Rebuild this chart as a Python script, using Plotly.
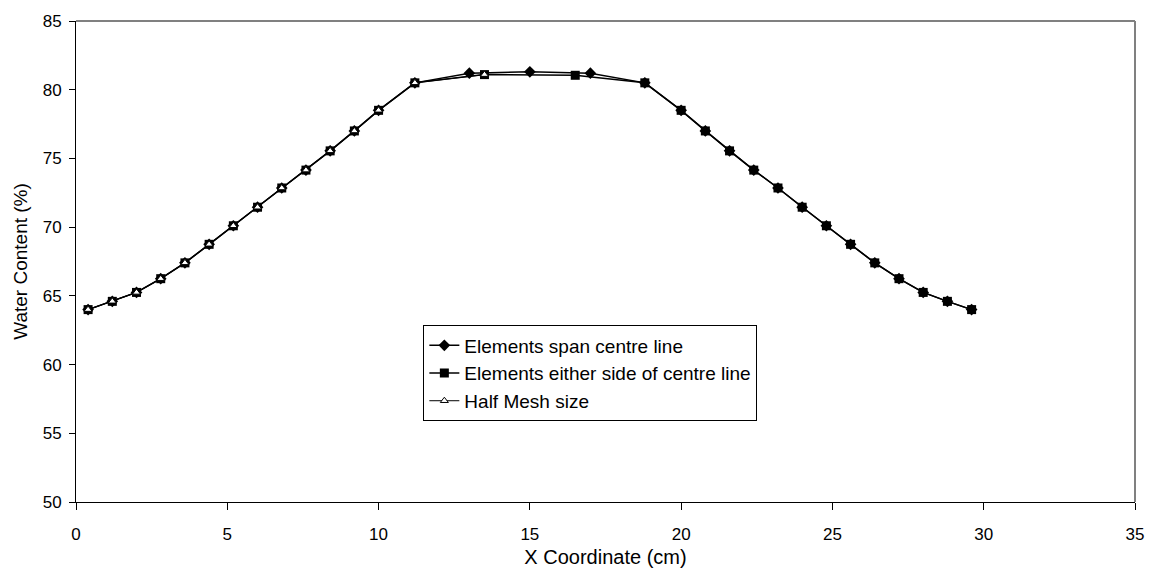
import plotly.graph_objects as go

# Data
x_left = [0.4, 1.2, 2.0, 2.8, 3.6, 4.4, 5.2, 6.0, 6.8, 7.6, 8.4, 9.2, 10.0, 11.2]
y_left = [64.0, 64.6, 65.25, 66.25, 67.4, 68.75, 70.1, 71.45, 72.85, 74.15, 75.55, 77.0, 78.5, 80.5]
x_right = [18.8, 20.0, 20.8, 21.6, 22.4, 23.2, 24.0, 24.8, 25.6, 26.4, 27.2, 28.0, 28.8, 29.6]
y_right = [80.5, 78.5, 77.0, 75.55, 74.15, 72.85, 71.45, 70.1, 68.75, 67.4, 66.25, 65.25, 64.6, 64.0]

span_mid_x = [13.0, 15.0, 17.0]
span_mid_y = [81.2, 81.3, 81.2]

either_mid_x = [13.5, 16.5]
either_mid_y = [81.1, 81.05]

half_mid_x = [13.5]
half_mid_y = [81.1]

span_x = x_left + span_mid_x + x_right
span_y = y_left + span_mid_y + y_right
either_x = x_left + either_mid_x + x_right
either_y = y_left + either_mid_y + y_right
half_x = x_left + half_mid_x
half_y = y_left + half_mid_y

names = ["Elements span centre line", "Elements either side of centre line", "Half Mesh size"]

x_ticks = [0, 5, 10, 15, 20, 25, 30, 35]
y_ticks = [50, 55, 60, 65, 70, 75, 80, 85]

FONT = "Liberation Sans, Arial, sans-serif"

fig = go.Figure()
fig.add_trace(go.Scatter(
    x=span_x, y=span_y, name=names[0], mode="lines+markers",
    line=dict(color="black", width=1.5),
    marker=dict(symbol="diamond", size=9, color="black"),
))
fig.add_trace(go.Scatter(
    x=either_x, y=either_y, name=names[1], mode="lines+markers",
    line=dict(color="black", width=1.5),
    marker=dict(symbol="square", size=9, color="black"),
))
fig.add_trace(go.Scatter(
    x=half_x, y=half_y, name=names[2], mode="lines+markers",
    line=dict(color="black", width=1),
    marker=dict(symbol="triangle-up", size=7, color="white",
                line=dict(color="black", width=1)),
))

fig.update_layout(
    width=1156, height=576,
    margin=dict(l=76, r=19, t=16, b=72),
    paper_bgcolor="white", plot_bgcolor="white",
    font=dict(family=FONT, size=17, color="black"),
    showlegend=True,
    legend=dict(
        x=0.328, y=0.367, xanchor="left", yanchor="top",
        bgcolor="white", bordercolor="black", borderwidth=1,
        font=dict(family=FONT, size=19, color="black"),
        tracegroupgap=0, itemwidth=30,
    ),
    xaxis=dict(
        range=[0, 35], tickvals=x_ticks, ticktext=[str(v) for v in x_ticks],
        showgrid=False, zeroline=False, showline=True, linecolor="black", linewidth=1,
        ticks="outside", ticklen=7, tickcolor="black", ticklabelstandoff=10,
        title=dict(text="X Coordinate (cm)", font=dict(family=FONT, size=20), standoff=6),
        tickfont=dict(family=FONT, size=17),
    ),
    yaxis=dict(
        range=[50, 85], tickvals=y_ticks, ticktext=[str(v) for v in y_ticks],
        showgrid=False, zeroline=False, showline=True, linecolor="black", linewidth=1,
        ticks="outside", ticklen=6, tickcolor="black", ticklabelstandoff=4,
        title=dict(text="Water Content (%)", font=dict(family=FONT, size=19), standoff=10),
        tickfont=dict(family=FONT, size=17),
    ),
    shapes=[dict(type="line", xref="paper", yref="paper", x0=0, x1=1, y0=1, y1=1,
                 line=dict(color="#808080", width=2)),
            dict(type="line", xref="paper", yref="paper", x0=1, x1=1, y0=0, y1=1,
                 line=dict(color="#808080", width=2))],
)

# remove the default page margin so the figure sits at the window origin
fig.write_html("out.html", config={"displayModeBar": False},
               post_script="document.body.style.margin='0';")
